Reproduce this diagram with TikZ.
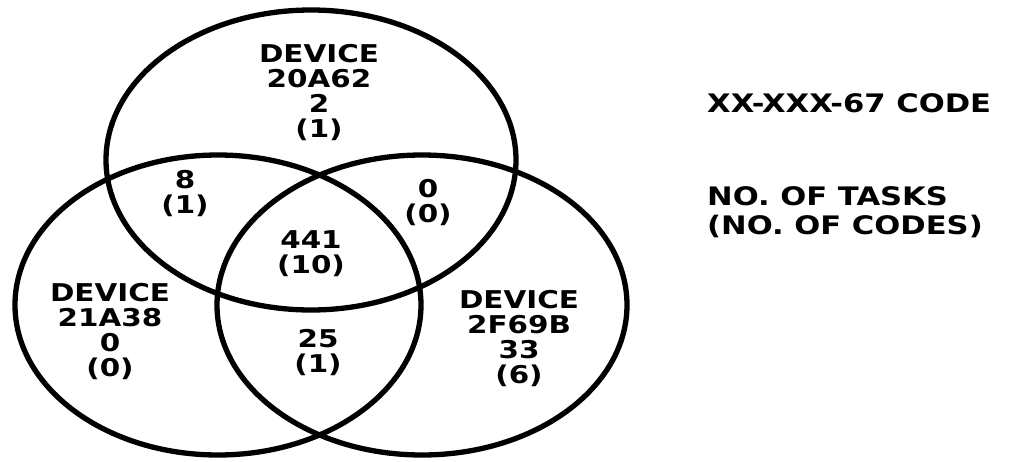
\documentclass[tikz,border=0pt]{standalone}
\usepackage{fontspec}
\setmainfont{DejaVu Sans}[BoldFont={DejaVu Sans Bold},FakeStretch=1.2]
\begin{document}
\begin{tikzpicture}[x=1pt,y=-1pt,
  ring/.style={line width=5.3pt},
  lbl/.style={font=\fontsize{24.5}{25}\selectfont\bfseries, align=center, inner sep=0pt},
  leg/.style={font=\fontsize{25.5}{29}\selectfont\bfseries, align=left, inner sep=0pt, anchor=west}]
\useasboundingbox[fill=white] (0,0) rectangle (1010,461);
% the three sets
\draw[ring] (311,160) ellipse [x radius=205, y radius=150];
\draw[ring] (218,305) ellipse [x radius=203, y radius=150];
\draw[ring] (422,305) ellipse [x radius=205, y radius=150];
% region labels
\node[lbl] (topdev) at (319,93) {DEVICE\\20A62\\2\\(1)};
\node[lbl] (leftdev) at (110,332) {DEVICE\\21A38\\0\\(0)};
\node[lbl] (rightdev) at (519,339) {DEVICE\\2F69B\\33\\(6)};
\node[lbl] (tl) at (185,194) {8\\(1)};
\node[lbl] (tr) at (428,203) {0\\(0)};
\node[lbl] (mid) at (311,254) {441\\(10)};
\node[lbl] (bot) at (318,353) {25\\(1)};
% legend
\node[leg] (code) at (707,103) {XX-XXX-67 CODE};
\node[leg] (tasks) at (707,212) {NO. OF TASKS\\(NO. OF CODES)};
\end{tikzpicture}
\end{document}
